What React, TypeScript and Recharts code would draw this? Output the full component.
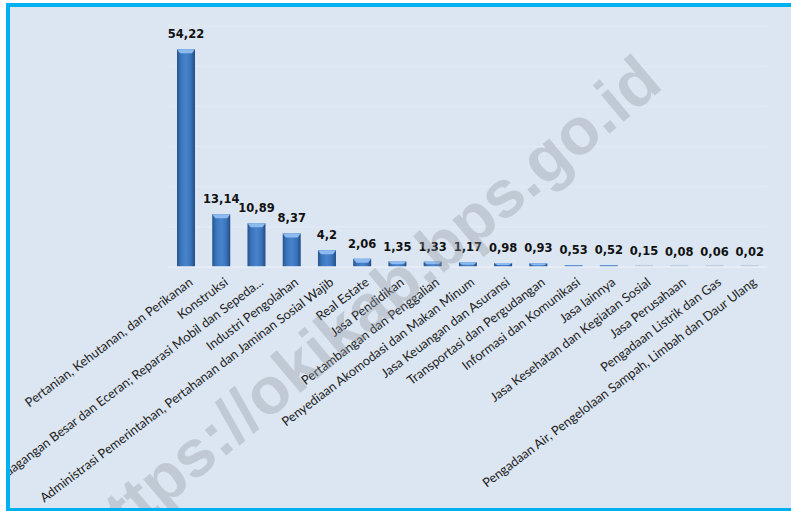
import React from "react"
import { BarChart, Bar, XAxis, YAxis, CartesianGrid, LabelList } from "recharts"

// sectors (lapangan usaha) and their share, in percent
const categories = [
  "Pertanian, Kehutanan, dan Perikanan",
  "Konstruksi",
  "Perdagangan Besar dan Eceran; Reparasi Mobil dan Sepeda...",
  "Industri Pengolahan",
  "Administrasi Pemerintahan, Pertahanan dan Jaminan Sosial Wajib",
  "Real Estate",
  "Jasa Pendidikan",
  "Pertambangan dan Penggalian",
  "Penyediaan Akomodasi dan Makan Minum",
  "Jasa Keuangan dan Asuransi",
  "Transportasi dan Pergudangan",
  "Informasi dan Komunikasi",
  "Jasa lainnya",
  "Jasa Kesehatan dan Kegiatan Sosial",
  "Jasa Perusahaan",
  "Pengadaan Listrik dan Gas",
  "Pengadaan Air, Pengelolaan Sampah, Limbah dan Daur Ulang",
]
const shares = [54.22, 13.14, 10.89, 8.37, 4.2, 2.06, 1.35, 1.33, 1.17, 0.98, 0.93, 0.53, 0.52, 0.15, 0.08, 0.06, 0.02]
const yTicks = [0, 10, 20, 30, 40, 50, 60]

const data = categories.map((name, i) => ({ name, value: shares[i] }))

const formatValue = (v: number) => String(v).replace(".", ",")

function BevelBar(props: any) {
  const { x, y, width, height } = props
  if (height < 3) {
    const h = 2
    const color = height >= 1.5 ? "#5e93d4" : "#bfcde0"
    return <rect x={x} y={y + height - h} width={width} height={h} fill={color} />
  }
  const cap = Math.min(4, height / 2)
  return (
    <g>
      <rect x={x} y={y} width={width} height={height} fill="url(#barGrad)" />
      <polygon
        points={`${x},${y} ${x + width},${y} ${x + width - 3},${y + cap} ${x + 3},${y + cap}`}
        fill="#8dbbef"
      />
    </g>
  )
}

function AxisTick(props: any) {
  const { x, y, payload } = props
  return (
    <g transform={`translate(${x + 8},${y + 17}) rotate(-37)`}>
      <text textAnchor="end" fontFamily="Lato" fontSize={12.8} fill="#222">
        {payload.value}
      </text>
    </g>
  )
}

function ValueLabel(props: any) {
  const { x, y, width, value } = props
  return (
    <text
      x={x + width / 2}
      y={y - 11}
      textAnchor="middle"
      fontFamily="DejaVu Sans"
      fontWeight="bold"
      fontSize={11.5}
      fill="#111"
    >
      {formatValue(value)}
    </text>
  )
}

export default function App() {
  return (
    <div style={{ position: "fixed", left: 0, top: 0, width: 791, height: 511, background: "#fff", overflow: "hidden" }}>
      <div
        style={{
          position: "absolute",
          left: 6,
          top: 3,
          width: 800,
          height: 501,
          borderLeft: "4px solid #00b0f0",
          borderTop: "4px solid #00b0f0",
          borderBottom: "4px solid #00b0f0",
          background: "#dce6f2",
          overflow: "hidden",
        }}
      >
        <BarChart
          width={800}
          height={500}
          data={data}
          margin={{ top: 19, right: 43, left: 158, bottom: 40 }}
        >
          <defs>
            <linearGradient id="barGrad" x1="0" y1="0" x2="1" y2="0">
              <stop offset="0%" stopColor="#27558f" />
              <stop offset="22%" stopColor="#3b74bc" />
              <stop offset="50%" stopColor="#4784cd" />
              <stop offset="78%" stopColor="#3a72b9" />
              <stop offset="100%" stopColor="#214b84" />
            </linearGradient>
          </defs>
          <CartesianGrid vertical={false} stroke="#e3eaf4" />
          <YAxis hide domain={[0, 60]} ticks={yTicks} />
          <XAxis
            dataKey="name"
            interval={0}
            height={200}
            tickLine={false}
            tickSize={0}
            tickMargin={0}
            axisLine={{ stroke: "#e9eff7", strokeWidth: 1.5 }}
            tick={<AxisTick />}
          />
          <Bar dataKey="value" barSize={18} shape={<BevelBar />} isAnimationActive={false}>
            <LabelList dataKey="value" content={<ValueLabel />} />
          </Bar>
        </BarChart>
        <svg
          width={800}
          height={501}
          style={{ position: "absolute", left: 0, top: 0, pointerEvents: "none" }}
        >
          <text
            transform="translate(655,80) rotate(-40)"
            textAnchor="end"
            fontFamily="Liberation Sans"
            fontWeight="bold"
            fontSize={66}
            fill="#8e959f"
            opacity={0.35}
          >
            https://okikab.bps.go.id
          </text>
        </svg>
      </div>
    </div>
  )
}
